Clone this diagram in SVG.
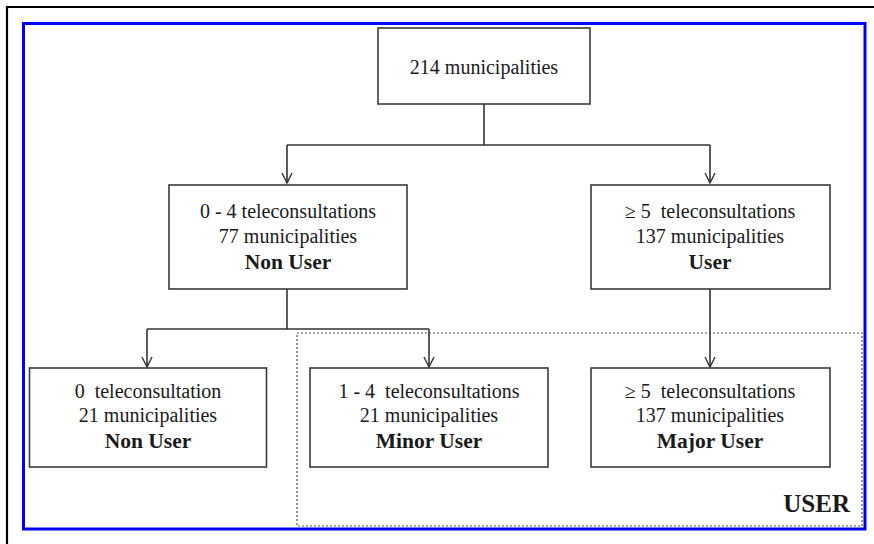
<svg xmlns="http://www.w3.org/2000/svg" width="874" height="544" viewBox="0 0 874 544">
<style>
text{font-family:"Liberation Serif","Times New Roman",serif;fill:#1a1a1a;text-anchor:middle;white-space:pre}
.t{font-size:20px}
.b{font-size:21.5px;font-weight:bold}
.box{fill:#fff;stroke:#3a3a3a;stroke-width:1.6}
.con{fill:none;stroke:#333;stroke-width:1.6}
</style>
<defs>
<marker id="arr" viewBox="0 0 12 12" refX="11" refY="6" markerWidth="12" markerHeight="12" markerUnits="userSpaceOnUse" orient="auto">
<path d="M1,1 L11,6 L1,11" fill="none" stroke="#333" stroke-width="1.4"/>
</marker>
</defs>
<rect width="874" height="544" fill="#fff"/>
<path d="M7,544 V7 H874" fill="none" stroke="#000" stroke-width="2.2"/>
<rect x="23.5" y="23.5" width="841.5" height="505.5" fill="none" stroke="#0000ff" stroke-width="3"/>
<g id="user-group">
<rect x="297" y="333" width="565" height="193" fill="none" stroke="#555" stroke-width="1.2" stroke-dasharray="2,2"/>
<text x="850" y="512" style="font-size:25px;font-weight:bold;text-anchor:end">USER</text>
</g>
<g id="connectors">
<path class="con" d="M484,104 V145"/>
<path class="con" d="M287,145 H710"/>
<path class="con" d="M287,145 V183" marker-end="url(#arr)"/>
<path class="con" d="M710,145 V183" marker-end="url(#arr)"/>
<path class="con" d="M287,289 V329"/>
<path class="con" d="M147,329 H429"/>
<path class="con" d="M147,329 V367" marker-end="url(#arr)"/>
<path class="con" d="M429,329 V367" marker-end="url(#arr)"/>
<path class="con" d="M710,289 V367" marker-end="url(#arr)"/>
</g>
<g id="n-all">
<rect class="box" x="378" y="28" width="212" height="76"/>
<text class="t" x="484" y="74">214 municipalities</text>
</g>
<g id="n-nonuser">
<rect class="box" x="169" y="185" width="238" height="104"/>
<text class="t" x="288" y="218">0 - 4 teleconsultations</text>
<text class="t" x="288" y="243">77 municipalities</text>
<text class="b" x="288" y="269">Non User</text>
</g>
<g id="n-user">
<rect class="box" x="591" y="185" width="239" height="104"/>
<text class="t" x="710" y="218">≥ 5  teleconsultations</text>
<text class="t" x="710" y="243">137 municipalities</text>
<text class="b" x="710" y="269">User</text>
</g>
<g id="n-nonuser2">
<rect class="box" x="29.5" y="368" width="237" height="99"/>
<text class="t" x="148" y="398">0  teleconsultation</text>
<text class="t" x="148" y="422">21 municipalities</text>
<text class="b" x="148" y="448">Non User</text>
</g>
<g id="n-minor">
<rect class="box" x="310" y="368" width="238" height="99"/>
<text class="t" x="429" y="398">1 - 4  teleconsultations</text>
<text class="t" x="429" y="422">21 municipalities</text>
<text class="b" x="429" y="448">Minor User</text>
</g>
<g id="n-major">
<rect class="box" x="591" y="368" width="239" height="99"/>
<text class="t" x="710" y="398">≥ 5  teleconsultations</text>
<text class="t" x="710" y="422">137 municipalities</text>
<text class="b" x="710" y="448">Major User</text>
</g>
</svg>
